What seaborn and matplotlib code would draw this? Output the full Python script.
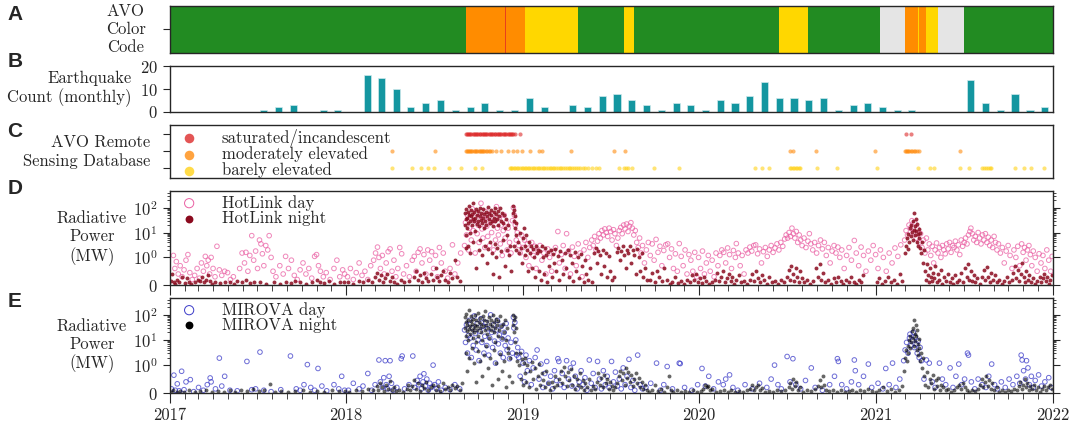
import numpy as np
import pandas as pd
import seaborn as sns
import matplotlib.pyplot as plt
import matplotlib.dates as mdates
from matplotlib.ticker import FixedLocator, NullFormatter

start = pd.Timestamp('2017-01-01')
end = pd.Timestamp('2022-01-01')

# ---- A: AVO aviation color code periods
avo_start = ['2017-01-01', '2018-09-05', '2018-11-25', '2018-11-27', '2019-01-07', '2019-04-25',
             '2019-07-30', '2019-08-20', '2020-06-15', '2020-08-13', '2021-01-10', '2021-03-01',
             '2021-03-29', '2021-03-31', '2021-04-15', '2021-05-08', '2021-07-02']
avo_end = avo_start[1:] + ['2022-01-01']
avo_code = ['green', 'orange', 'red', 'orange', 'yellow', 'green', 'yellow', 'green', 'yellow',
            'green', 'unassigned', 'orange', 'yellow', 'orange', 'yellow', 'unassigned', 'green']
code_colors = {'green': '#228b22', 'yellow': '#ffd700', 'orange': '#ff8c00',
               'red': '#e8401c', 'unassigned': '#e5e5e5'}

# ---- B: monthly earthquake counts, Jan 2017 .. Dec 2021
eq_counts = [0, 0, 0, 0, 0, 0, 1, 2, 3, 0, 1, 1,
             0, 16, 15, 10, 2, 4, 5, 1, 2, 4, 1, 1,
             6, 2, 0, 3, 2, 7, 8, 5, 3, 1, 4, 3,
             1, 5, 4, 7, 13, 6, 6, 5, 6, 1, 3, 4,
             2, 1, 1, 0, 0, 0, 14, 4, 1, 8, 1, 2]

# ---- C: AVO remote sensing detections (days since 2017-01-01)
rs_saturated = [613, 615, 617, 620, 622, 624, 627, 629, 631, 634, 636, 638, 641, 643, 646, 648, 650,
                653, 655, 657, 660, 662, 665, 667, 669, 672, 674, 677, 679, 681, 684, 686, 689, 691,
                694, 696, 699, 701, 704, 706, 708, 710, 715, 724, 1523, 1534]
rs_moderate = [459, 549, 613, 615, 617, 619, 622, 624, 626, 629, 631, 634, 636, 639, 641, 644, 646,
               649, 651, 654, 657, 660, 663, 667, 675, 685, 699, 710, 718, 728, 746, 764, 771, 830,
               920, 941, 1283, 1290, 1337, 1459, 1520, 1522, 1524, 1527, 1530, 1533, 1536, 1539,
               1542, 1545, 1549, 1634]
rs_barely = [459, 502, 520, 534, 547, 578, 603, 631, 646, 703, 706, 709, 712, 715, 718, 721, 725,
             728, 731, 734, 738, 741, 744, 747, 751, 754, 758, 761, 765, 768, 772, 775, 779, 782,
             786, 789, 793, 796, 800, 803, 807, 810, 814, 818, 821, 825, 828, 832, 836, 840, 844,
             849, 854, 860, 866, 874, 882, 889, 929, 939, 944, 949, 956, 1002, 1054, 1211, 1226,
             1240, 1283, 1286, 1289, 1292, 1295, 1298, 1301, 1304, 1339, 1381, 1462, 1547, 1573,
             1581, 1634, 1654, 1681, 1685, 1689, 1693, 1697, 1699, 1749, 1767, 1781, 1808]

# ---- D: HotLink radiative power (day since 2017-01-01, MW)
hl_day = [
    (8, 1.2), (11, 0.6), (14, 0.85), (18, 0.4), (22, 0.7), (26, 0.3), (30, 0.55), (34, 0.9), (38, 1.3),
    (42, 0.45), (47, 0.2), (52, 0.35), (57, 0.6), (62, 0.25), (66, 0.8), (70, 0.5), (74, 1.1), (77, 0.7),
    (80, 0.9), (83, 0.4), (86, 1.0), (90, 0.6), (94, 0.3), (98, 2.8), (103, 0.55), (108, 0.35), (114, 0.5),
    (120, 0.45), (126, 0.2), (132, 0.3), (145, 0.6), (150, 1.5), (155, 0.8), (158, 1.6), (162, 0.5),
    (166, 1.2), (170, 7.5), (174, 0.9), (178, 1.8), (182, 0.6), (186, 5), (189, 3.5), (192, 1.4),
    (195, 0.7), (199, 3), (203, 2), (206, 7.5), (210, 1), (214, 0.5), (220, 0.3), (228, 0.7), (235, 0.4),
    (240, 1.1), (246, 0.6), (252, 0.9), (258, 0.35), (264, 0.2), (270, 0.55), (276, 0.8), (282, 0.4),
    (288, 0.6), (294, 0.25), (300, 1.1), (304, 1.3), (308, 0.7), (312, 0.5), (318, 0.3), (324, 0.45),
    (332, 0.2), (340, 0.6), (346, 0.9), (352, 0.3), (358, 0.55), (362, 0.4),
    (368, 0.3), (374, 0.6), (380, 0.2), (386, 0.45), (392, 0.8), (398, 0.35), (404, 0.5), (410, 0.2),
    (416, 0.7), (422, 0.9), (426, 1.5), (430, 2.6), (433, 1), (436, 0.6), (440, 1.2), (444, 0.4),
    (448, 0.8), (452, 1.7), (456, 2.2), (460, 0.5), (464, 0.9), (468, 0.3), (472, 0.6), (476, 2.5),
    (480, 1.4), (484, 0.4), (490, 0.7), (496, 0.3), (502, 0.9), (506, 1.1), (510, 0.5), (514, 1.6),
    (518, 2.2), (522, 0.8), (526, 1.3), (530, 0.4), (534, 2), (538, 0.9), (542, 1.7), (546, 0.6),
    (550, 1.2), (554, 0.3), (558, 2.5), (562, 0.8), (566, 1.5), (570, 0.5), (575, 0.25), (580, 0.6),
    (585, 3.2), (590, 0.4), (596, 0.8), (602, 1.5),
    (610, 3), (612, 25), (614, 8), (616, 50), (618, 2), (620, 15), (622, 40), (624, 5), (626, 90),
    (628, 12), (630, 30), (632, 1.5), (634, 60), (636, 9), (638, 20), (640, 4), (642, 45), (644, 150),
    (646, 14), (648, 6), (650, 35), (652, 2.5), (654, 70), (656, 18), (658, 7), (660, 40), (662, 3),
    (664, 25), (666, 10), (668, 55), (670, 2), (672, 30), (674, 5), (676, 110), (678, 15), (680, 8),
    (682, 40), (684, 3.5), (686, 20), (688, 1.2), (690, 12), (692, 50), (694, 6), (696, 25), (698, 2),
    (700, 15), (703, 4), (706, 1.5), (709, 30), (711, 100), (713, 50), (715, 20), (717, 5), (719, 10),
    (722, 3), (725, 1.5), (728, 8), (731, 2.5), (734, 5), (737, 1), (740, 3.5), (743, 0.7), (746, 2),
    (749, 4), (752, 1.2), (755, 2.8), (758, 0.6), (762, 1.8), (766, 3), (770, 0.9), (774, 1.5),
    (778, 0.4), (782, 2.2), (786, 1), (790, 0.5), (794, 1.6), (798, 2.5), (803, 11), (806, 0.8),
    (810, 1.3), (814, 3), (818, 0.6), (821, 9), (825, 1.8), (829, 0.4), (833, 2.6), (837, 1.1),
    (841, 0.7), (845, 3.5), (849, 1.5), (853, 0.3), (857, 2), (861, 4), (865, 1), (869, 2.5), (873, 5),
    (876, 3), (879, 7), (882, 2), (885, 4.5), (888, 9), (891, 6), (894, 12), (897, 8), (900, 14),
    (903, 10), (906, 7), (909, 15), (912, 11), (915, 5), (918, 13), (921, 9), (924, 3), (927, 6),
    (930, 12), (933, 16), (936, 9), (939, 20), (942, 14), (945, 22), (948, 11), (951, 18), (954, 25),
    (957, 15), (960, 8), (963, 12), (966, 4), (969, 2.5), (972, 6), (975, 1.5), (978, 3), (982, 0.8),
    (986, 2), (990, 4), (994, 1.2), (998, 3.5), (1002, 0.9), (1006, 5.3), (1010, 1.6), (1014, 2.8),
    (1018, 0.7), (1022, 1.9), (1026, 3.2), (1030, 3.5), (1034, 1), (1038, 2.2), (1042, 0.6), (1046, 1.4),
    (1050, 0.5), (1054, 3.6), (1058, 1.1), (1062, 0.7), (1066, 2), (1070, 0.4), (1074, 1.3), (1078, 0.9),
    (1082, 0.5), (1086, 1.6), (1090, 0.3), (1094, 1), (1098, 0.6), (1102, 1.8), (1106, 0.4), (1110, 0.8),
    (1114, 1.2), (1118, 0.5), (1122, 0.9), (1126, 0.3), (1130, 1.5), (1134, 0.7), (1138, 1.2), (1142, 2),
    (1146, 1.6), (1150, 0.8), (1154, 2.4), (1158, 1.3), (1162, 0.6), (1166, 1.9), (1170, 1), (1172, 3.6),
    (1176, 1.5), (1180, 0.7), (1184, 1.2), (1188, 0.4), (1192, 2), (1196, 1.5), (1200, 2.6), (1204, 1.8),
    (1208, 3), (1212, 3.2), (1216, 1.4), (1220, 2.2), (1224, 0.8), (1228, 1.7), (1232, 2.5), (1236, 1.1),
    (1240, 2), (1244, 3), (1248, 1.6), (1252, 2.4), (1256, 3.5), (1260, 2), (1264, 4), (1268, 2.8),
    (1272, 5.5), (1275, 8), (1278, 6), (1281, 10), (1284, 7), (1287, 15), (1290, 9), (1293, 6),
    (1296, 11), (1299, 4), (1302, 8), (1305, 5), (1308, 3), (1312, 6), (1316, 2.5), (1320, 4.5),
    (1323, 9), (1326, 3.5), (1330, 2), (1334, 4), (1338, 1.5), (1342, 3), (1346, 5), (1350, 2.2),
    (1354, 4), (1358, 1.2), (1362, 2.5), (1366, 0.8), (1370, 1.8), (1374, 3), (1378, 1.5), (1382, 2.6),
    (1386, 1), (1390, 2), (1395, 0.6), (1400, 1.2), (1405, 2.5), (1410, 0.9), (1416, 4.8), (1420, 1.5),
    (1425, 0.7), (1430, 2.6), (1435, 1.2), (1440, 0.5), (1445, 1.8), (1450, 0.9), (1455, 3), (1460, 1.3),
    (1465, 0.6), (1470, 2), (1476, 1), (1482, 0.5), (1488, 1.5), (1494, 0.8), (1500, 2.4), (1506, 1.1),
    (1512, 3.2),
    (1520, 5), (1523, 12), (1526, 8), (1529, 20), (1532, 15), (1535, 30), (1538, 10), (1541, 25),
    (1544, 6), (1547, 14), (1550, 4), (1553, 9), (1556, 2.5), (1559, 5), (1562, 1.5),
    (1565, 6), (1568, 2), (1571, 3.5), (1574, 1.2), (1577, 2.8), (1580, 0.8), (1583, 2), (1586, 3.8),
    (1589, 1.5), (1592, 2.5), (1595, 1), (1598, 3), (1601, 2), (1604, 1.4), (1607, 3.5), (1610, 2.2),
    (1613, 4), (1616, 1.6), (1619, 3), (1622, 2.5), (1625, 4.5), (1628, 2), (1631, 3.2), (1634, 1.3),
    (1637, 5), (1640, 2.8), (1643, 4), (1646, 6), (1649, 3.5), (1652, 8), (1655, 11), (1657, 15),
    (1660, 9), (1663, 5), (1666, 7), (1669, 4), (1672, 10), (1675, 6), (1678, 3.5), (1681, 8), (1684, 5),
    (1687, 9), (1690, 4), (1693, 6.5), (1696, 3), (1699, 5), (1702, 2.5), (1705, 7), (1708, 4), (1711, 2),
    (1714, 3.5), (1718, 1.5), (1722, 2.5), (1726, 0.8), (1730, 1.8), (1734, 3), (1738, 1.2), (1742, 0.6),
    (1746, 2), (1750, 1), (1754, 2.8), (1758, 0.7), (1762, 3.5), (1765, 1.6), (1768, 2.5), (1771, 0.9),
    (1774, 2), (1777, 3), (1780, 1.3), (1783, 0.7), (1786, 1.8), (1790, 1), (1794, 0.5), (1798, 1.4),
    (1802, 0.8), (1806, 1.2), (1810, 0.6), (1814, 2), (1818, 0.9), (1822, 0.5), (1825, 1.1)]

hl_night = [
    (3, 0.15), (6, 0.4), (9, 0.1), (12, 0.05), (16, 0.2), (20, 0.1), (26, 0.3), (31, 0.08), (36, 0.25),
    (40, 0.12), (45, 0.05), (52, 0.1), (58, 0.2), (63, 0.15), (68, 0.3), (72, 0.1), (76, 0.2), (80, 0.35),
    (84, 0.15), (88, 0.05), (95, 0.1), (104, 0.08), (115, 0.12), (125, 0.1), (133, 0.05), (140, 0.15),
    (150, 0.1), (158, 0.2), (166, 0.08), (175, 0.1), (188, 0.12), (200, 0.05), (215, 0.1), (228, 0.05),
    (240, 0.12), (252, 0.08), (260, 0.15), (270, 0.1), (282, 0.05), (295, 0.12), (305, 0.2), (312, 0.1),
    (320, 0.08), (330, 0.15), (340, 0.05), (352, 0.1), (360, 0.12),
    (370, 0.1), (380, 0.05), (392, 0.15), (400, 0.1), (410, 0.2), (418, 0.12), (425, 0.3), (430, 0.45),
    (434, 0.2), (438, 0.35), (442, 0.1), (446, 0.25), (450, 0.4), (455, 0.15), (460, 0.3), (465, 0.1),
    (470, 0.05), (478, 0.2), (485, 0.1), (495, 0.15), (505, 0.3), (510, 0.5), (514, 0.2), (518, 0.35),
    (522, 0.1), (526, 0.45), (530, 0.25), (535, 0.15), (540, 0.4), (545, 0.2), (550, 0.6), (554, 0.3),
    (558, 0.15), (562, 0.35), (566, 0.5), (570, 0.2), (575, 0.1), (580, 0.45), (585, 0.25), (590, 0.9),
    (595, 0.3), (600, 0.15),
    (610, 20), (611, 60), (612, 35), (613, 8), (614, 90), (615, 40), (616, 15), (617, 70), (618, 25),
    (619, 50), (620, 120), (621, 30), (622, 10), (623, 45), (624, 80), (625, 20), (626, 55), (627, 35),
    (628, 150), (629, 28), (630, 65), (631, 12), (632, 40), (634, 90), (635, 22), (636, 50), (637, 30),
    (638, 75), (640, 18), (641, 45), (642, 100), (644, 33), (645, 60), (646, 25), (648, 40), (649, 85),
    (650, 15), (651, 55), (653, 30), (654, 70), (655, 20), (657, 45), (658, 110), (660, 35), (661, 60),
    (662, 25), (664, 50), (665, 80), (667, 30), (668, 18), (670, 65), (671, 40), (673, 95), (674, 28),
    (676, 55), (677, 35), (679, 75), (680, 20), (682, 45), (684, 100), (686, 30), (688, 60), (690, 25),
    (692, 50), (694, 15), (696, 35), (698, 8), (700, 20),
    (612, 2.5), (618, 3), (622, 1.5), (628, 4), (633, 0.6), (639, 2), (643, 5), (647, 1.2), (652, 3),
    (656, 0.8), (659, 2.2), (663, 4), (666, 1.5), (669, 0.4), (672, 3.5), (675, 1), (678, 2.5),
    (681, 0.3), (685, 1.8), (689, 5), (693, 0.7), (697, 2), (701, 1.2), (704, 3), (706, 0.5),
    (710, 60), (711, 120), (712, 30), (713, 80), (714, 15), (715, 45), (716, 8), (717, 25), (712, 3),
    (716, 2),
    (720, 4), (722, 1.5), (724, 10), (726, 2.5), (728, 0.8), (730, 6), (732, 15), (734, 3), (736, 1.2),
    (738, 8), (740, 2), (742, 0.5), (744, 4), (746, 1.5), (748, 3), (750, 0.6), (752, 2.2), (754, 1),
    (756, 0.3), (758, 3), (760, 1.5),
    (762, 2), (764, 0.5), (766, 1.8), (768, 0.2), (770, 3), (772, 1), (774, 0.4), (776, 2.5), (778, 1.2),
    (780, 0.1), (782, 1.6), (785, 0.7), (788, 2), (790, 0.3), (793, 1.4), (795, 0.8), (798, 2.2),
    (800, 0.5), (803, 1.1), (806, 0.2), (808, 1.8), (811, 0.9), (814, 0.4), (817, 1.5), (820, 0.6),
    (823, 2), (826, 0.3), (829, 1.2), (832, 0.8), (835, 0.15), (838, 1.6), (841, 0.5), (844, 1),
    (847, 0.25), (850, 1.4), (853, 0.7), (856, 0.1), (859, 0.9), (862, 0.4), (866, 0.2), (870, 0.6),
    (874, 0.1), (878, 1.5), (881, 2.5), (884, 0.8), (887, 1.8), (890, 1.2), (893, 0.4), (896, 2),
    (899, 0.7), (902, 1.5), (905, 0.3), (908, 1.1), (911, 0.5), (914, 0.2), (920, 0.3), (925, 1.6),
    (928, 2.4), (931, 0.9), (934, 1.8), (937, 2.8), (940, 1.3), (943, 0.6), (946, 2), (949, 1.5),
    (952, 3), (955, 0.8), (958, 1.9), (961, 1.2), (964, 0.4), (967, 2.2), (970, 1), (973, 0.5),
    (976, 1.5), (980, 0.3), (984, 0.6), (988, 0.2),
    (993, 0.2), (998, 0.45), (1003, 0.1), (1008, 0.5), (1013, 0.3), (1018, 0.15), (1023, 0.6),
    (1028, 0.2), (1034, 0.05), (1040, 0.12), (1046, 0.3), (1052, 0.08), (1058, 0.15), (1064, 0.05),
    (1070, 0.2), (1076, 0.1), (1081, 0.35), (1085, 0.2), (1089, 0.4), (1093, 0.12), (1097, 0.25),
    (1101, 0.08), (1106, 0.3), (1110, 0.15), (1115, 0.05), (1122, 0.1), (1128, 0.2), (1133, 0.45),
    (1136, 0.15), (1140, 0.3), (1144, 0.5), (1148, 0.1), (1152, 0.25), (1156, 0.4), (1160, 0.15),
    (1164, 0.3), (1168, 0.05), (1172, 0.2), (1177, 0.35), (1182, 0.1), (1188, 0.15), (1194, 0.05),
    (1200, 0.2), (1205, 0.4), (1209, 0.15), (1213, 0.5), (1217, 0.25), (1221, 0.1), (1225, 0.35),
    (1230, 0.2), (1235, 0.05), (1240, 0.3), (1246, 0.1), (1252, 0.15), (1258, 0.05), (1264, 0.2),
    (1270, 0.1), (1276, 0.3), (1280, 0.55), (1283, 0.2), (1286, 0.7), (1289, 0.4), (1292, 0.15),
    (1295, 0.6), (1298, 0.3), (1301, 0.1), (1304, 0.5), (1308, 0.25), (1312, 0.1), (1318, 0.2),
    (1324, 0.05), (1330, 0.15), (1336, 0.6), (1340, 0.3), (1344, 0.75), (1348, 0.2), (1352, 0.45),
    (1356, 0.1), (1362, 0.2), (1368, 0.05), (1374, 0.25), (1378, 0.1), (1383, 0.3), (1388, 0.15),
    (1393, 0.05), (1398, 0.2), (1404, 0.1), (1410, 0.3), (1415, 0.12), (1420, 0.05), (1425, 0.2),
    (1430, 0.1), (1434, 0.35), (1462, 0.1), (1468, 0.25), (1474, 0.05), (1480, 0.15), (1486, 0.3),
    (1492, 0.1), (1498, 0.2), (1504, 0.05), (1510, 0.4), (1515, 0.15),
    (1520, 1.5), (1522, 3), (1524, 6), (1526, 2.2), (1528, 9), (1530, 4), (1531, 15), (1533, 7),
    (1534, 20), (1536, 11), (1537, 5), (1538, 28), (1539, 13), (1540, 60), (1541, 18), (1542, 8),
    (1543, 35), (1544, 12), (1545, 4), (1546, 22), (1547, 9), (1548, 3), (1549, 14), (1550, 6),
    (1551, 2.5), (1552, 10), (1553, 1.5), (1555, 4), (1557, 0.8), (1560, 2),
    (1562, 0.5), (1564, 0.2), (1566, 0.75), (1568, 0.35), (1570, 0.1), (1572, 0.6), (1574, 0.3),
    (1576, 0.15), (1578, 0.45), (1580, 0.25), (1583, 0.7), (1586, 0.1), (1589, 0.4), (1592, 0.2),
    (1595, 0.55), (1598, 0.05), (1601, 0.3), (1605, 0.15), (1609, 0.4), (1613, 0.1), (1617, 0.25),
    (1621, 0.05), (1625, 0.35), (1629, 0.12), (1633, 0.2), (1637, 0.45), (1641, 0.1), (1645, 0.6),
    (1648, 0.3), (1651, 0.75), (1654, 0.2), (1657, 0.5), (1660, 0.15), (1663, 0.35), (1666, 0.1),
    (1670, 0.25), (1675, 0.05), (1680, 0.3), (1684, 0.55), (1687, 0.2), (1690, 0.65), (1693, 0.3),
    (1696, 0.1), (1699, 0.45), (1703, 0.2), (1707, 0.35), (1711, 0.1), (1716, 0.2), (1721, 0.05),
    (1726, 0.15), (1731, 0.3), (1736, 0.1), (1741, 0.2), (1745, 0.45), (1748, 0.7), (1751, 0.25),
    (1754, 0.55), (1757, 0.15), (1760, 0.4), (1763, 0.8), (1766, 0.3), (1769, 0.1), (1772, 0.5),
    (1775, 0.2), (1778, 0.35), (1781, 0.1), (1785, 0.25), (1789, 0.05), (1794, 0.15), (1799, 0.3),
    (1803, 0.1), (1806, 0.25), (1809, 0.4), (1812, 0.15), (1815, 0.3), (1818, 0.05), (1821, 0.2),
    (1824, 0.35)]

# ---- E: MIROVA radiative power (day since 2017-01-01, MW)
mi_day = [
    (4, 0.15), (9, 0.64), (12, 0.1), (16, 0.33), (20, 0.08), (25, 0.78), (30, 0.12), (34, 0.4), (43, 0.48),
    (50, 0.05), (60, 0.2), (70, 0.1), (78, 0.3), (84, 0.54), (86, 0.4), (95, 0.15), (103, 1.9), (108, 0.25),
    (114, 0.6), (125, 0.1), (140, 0.08), (160, 1.4), (170, 0.12), (178, 0.15), (187, 3.3), (195, 0.1),
    (210, 0.05), (230, 0.12), (250, 2.3), (262, 0.15), (270, 0.1), (278, 0.3), (285, 1.05), (292, 0.2),
    (300, 0.1), (307, 0.88), (315, 0.25), (325, 0.08), (340, 0.3), (350, 0.15), (356, 0.6), (362, 0.1),
    (370, 0.1), (380, 0.35), (392, 0.15), (400, 0.25), (410, 0.7), (418, 0.1), (425, 0.3), (433, 1.6),
    (436, 0.4), (440, 0.2), (443, 0.55), (446, 1.5), (448, 0.3), (451, 0.15), (454, 0.6), (456, 1.5),
    (459, 0.35), (462, 0.1), (470, 0.2), (479, 1.8), (481, 2.3), (486, 0.15), (495, 0.3), (503, 2.3),
    (507, 0.2), (512, 0.45), (515, 0.3), (518, 0.6), (521, 0.15), (524, 0.4), (526, 0.69), (529, 0.25),
    (532, 0.5), (535, 0.1), (538, 0.35), (541, 0.2), (545, 1), (548, 0.3), (552, 0.15), (556, 0.4),
    (562, 0.1), (570, 0.2), (580, 0.12), (590, 0.3), (600, 0.15),
    (610, 25), (612, 8), (614, 40), (616, 3), (618, 15), (620, 60), (622, 12), (624, 2), (626, 30),
    (628, 6), (630, 90), (632, 18), (634, 4), (636, 45), (638, 10), (640, 1.5), (642, 22), (644, 70),
    (646, 8), (648, 35), (650, 3), (652, 14), (654, 50), (656, 6), (658, 28), (660, 2.5), (662, 12),
    (664, 100), (666, 20), (668, 5), (670, 40), (672, 9), (674, 1.2), (676, 25), (678, 60), (680, 7),
    (682, 16), (684, 3), (686, 35), (688, 11), (690, 2), (692, 20), (694, 6), (696, 45), (698, 4),
    (700, 12), (703, 1.8), (706, 8), (709, 3), (711, 80), (712, 30), (714, 50), (716, 10), (718, 2.5),
    (720, 5),
    (722, 2), (725, 0.6), (728, 3.5), (731, 1.2), (734, 0.4), (737, 2.5), (740, 0.8), (744, 1.5),
    (748, 0.3), (752, 0.9), (756, 2), (760, 4), (764, 0.5), (768, 1.1), (772, 0.2), (776, 0.7),
    (780, 1.4), (784, 0.35), (788, 0.6), (792, 0.15), (796, 0.8), (800, 0.45), (803, 1.8), (805, 1.4),
    (808, 0.3), (812, 0.7), (816, 0.2), (821, 1.5), (825, 0.5), (829, 0.9), (832, 0.25), (835, 1.2),
    (839, 0.6), (843, 0.15), (847, 0.4), (851, 0.8), (855, 0.3), (859, 0.55), (863, 0.1), (868, 1.6),
    (872, 0.35), (876, 0.7), (880, 0.2), (885, 1.4), (889, 0.5), (893, 0.15), (897, 0.8), (901, 0.3),
    (905, 0.6), (909, 0.2), (914, 1.4), (918, 0.4), (922, 0.75), (926, 0.25), (930, 0.5), (934, 0.15),
    (938, 0.9), (942, 0.3), (946, 0.6), (950, 1.7), (954, 0.2), (958, 0.45), (962, 0.1), (968, 2.5),
    (973, 0.3), (978, 0.15),
    (985, 0.2), (995, 0.35), (1007, 1.2), (1015, 0.1), (1022, 0.3), (1029, 0.95), (1040, 0.15),
    (1054, 1.2), (1056, 1.15), (1065, 0.2), (1080, 0.1), (1092, 0.3), (1101, 0.88), (1108, 0.25),
    (1115, 0.6), (1125, 0.15), (1135, 0.4), (1145, 0.3), (1150, 0.5), (1158, 0.65), (1165, 0.2),
    (1175, 0.1), (1190, 0.3), (1205, 0.15), (1220, 0.35), (1235, 0.2), (1244, 0.5), (1251, 1),
    (1258, 0.3), (1265, 0.15), (1277, 2.2), (1283, 0.4), (1289, 1.8), (1295, 0.3), (1305, 0.15),
    (1315, 0.45), (1327, 0.9), (1335, 0.2), (1350, 0.1), (1365, 0.3), (1375, 0.6), (1381, 1.8),
    (1383, 1.4), (1390, 0.3), (1400, 0.15), (1410, 0.4), (1416, 1.6), (1418, 0.8), (1425, 0.3),
    (1435, 0.6), (1445, 1.1), (1452, 0.2), (1465, 0.35), (1475, 0.15), (1481, 0.88), (1488, 0.3),
    (1495, 1.2), (1502, 0.2), (1510, 0.5),
    (1518, 1.5), (1521, 4), (1524, 8), (1527, 3), (1530, 12), (1531, 17), (1533, 6), (1536, 10),
    (1538, 20), (1540, 5), (1542, 13), (1544, 7), (1546, 3), (1548, 9), (1550, 2), (1552, 5), (1555, 1.5),
    (1560, 0.5), (1565, 1.6), (1571, 1.2), (1577, 0.4), (1583, 0.2), (1592, 1.2), (1598, 0.5),
    (1605, 0.3), (1614, 0.9), (1620, 0.2), (1626, 0.6), (1632, 1.1), (1638, 0.3), (1644, 0.5),
    (1650, 3), (1652, 2.5), (1658, 0.4), (1665, 0.15), (1672, 0.5), (1680, 0.3), (1688, 0.2),
    (1694, 0.6), (1700, 1.1), (1706, 0.3), (1712, 0.15), (1720, 0.4), (1728, 0.2), (1736, 0.5),
    (1744, 0.3), (1752, 0.6), (1758, 0.35), (1761, 2.5), (1763, 1.6), (1766, 0.8), (1770, 0.5),
    (1772, 1.5), (1775, 0.9), (1778, 0.3), (1782, 0.6), (1786, 0.2), (1790, 0.45), (1797, 0.65),
    (1803, 0.25), (1810, 0.4), (1818, 0.55), (1823, 0.2)]

mi_night = [
    (2, 0.05), (8, 0.1), (15, 0.03), (22, 0.08), (30, 0.05), (40, 0.12), (52, 0.04), (62, 0.07), (75, 0.1),
    (88, 0.05), (100, 0.08), (112, 0.03), (124, 0.1), (136, 0.05), (148, 0.12), (160, 0.06), (172, 0.15),
    (184, 0.08), (196, 0.1), (207, 0.33), (218, 0.05), (230, 0.08), (245, 0.03), (260, 0.06), (275, 0.1),
    (290, 0.04), (305, 0.08), (320, 0.05), (335, 0.1), (350, 0.06), (362, 0.08),
    (372, 0.05), (385, 0.1), (398, 0.08), (410, 0.15), (420, 0.1), (428, 0.25), (432, 0.12), (436, 0.35),
    (440, 0.2), (444, 0.08), (448, 0.3), (452, 0.15), (456, 0.42), (460, 0.1), (464, 0.22), (468, 0.06),
    (475, 0.12), (482, 0.05), (490, 0.15), (494, 0.3), (498, 0.1), (502, 0.25), (506, 0.45), (510, 0.15),
    (514, 0.35), (518, 0.08), (522, 0.28), (526, 0.18), (530, 0.4), (534, 0.1), (540, 0.2), (545, 0.3),
    (550, 0.12), (555, 0.25), (560, 0.08), (565, 0.35), (570, 0.15), (575, 0.22), (580, 0.1), (585, 0.3),
    (590, 0.18), (595, 0.25), (600, 0.12), (605, 0.35),
    (610, 30), (611, 80), (612, 15), (613, 50), (614, 110), (615, 22), (616, 40), (617, 10), (618, 65),
    (619, 28), (620, 150), (621, 35), (622, 18), (623, 55), (624, 90), (625, 25), (626, 45), (627, 12),
    (628, 70), (629, 30), (630, 20), (631, 100), (632, 40), (633, 8), (634, 60), (635, 25), (636, 35),
    (637, 120), (638, 15), (640, 50), (641, 30), (642, 75), (644, 20), (645, 45), (646, 10), (648, 90),
    (649, 35), (650, 60), (652, 25), (653, 140), (654, 40), (656, 18), (657, 55), (658, 30), (660, 80),
    (661, 12), (662, 45), (664, 25), (665, 65), (667, 35), (668, 100), (670, 20), (671, 50), (673, 30),
    (674, 8), (676, 70), (677, 40), (679, 15), (680, 55), (682, 25), (684, 90), (686, 35), (688, 12),
    (690, 45), (692, 20), (694, 60), (696, 10), (698, 30), (700, 5),
    (612, 3), (616, 0.8), (620, 2), (625, 5), (630, 1.2), (634, 0.4), (638, 3.5), (643, 1.5), (647, 0.6),
    (651, 2.5), (655, 6), (659, 0.9), (663, 2), (667, 0.3), (671, 4), (675, 1.2), (679, 0.5), (683, 2.8),
    (687, 0.8), (691, 1.5), (695, 0.2), (699, 3), (702, 0.6), (705, 2), (708, 0.4),
    (710, 40), (711, 100), (712, 60), (713, 20), (714, 85), (715, 8), (716, 30), (717, 3), (718, 1.5),
    (722, 1), (724, 3), (726, 0.5), (728, 1.8), (730, 0.3), (732, 1.2), (734, 0.7), (736, 2), (738, 0.4),
    (740, 1), (743, 0.2), (746, 0.8), (749, 1.3), (752, 0.5), (755, 0.9), (758, 0.15), (761, 0.6),
    (764, 1.1), (767, 0.3), (770, 0.7), (773, 0.45), (776, 0.2), (779, 0.8), (782, 0.35), (786, 0.1),
    (790, 0.4), (794, 0.2), (798, 0.6), (802, 0.3), (806, 0.5), (809, 0.8), (812, 0.35), (815, 0.95),
    (818, 0.6), (821, 0.25), (824, 0.75), (827, 0.45), (830, 0.85), (833, 0.3), (836, 0.6), (839, 0.15),
    (842, 0.5), (845, 0.3), (848, 0.7), (851, 0.2), (854, 0.45), (857, 0.1), (860, 0.35), (864, 0.2),
    (868, 0.5), (872, 0.1), (876, 0.25), (880, 0.15), (884, 0.4), (887, 0.7), (890, 0.3), (893, 0.55),
    (896, 0.2), (899, 0.65), (902, 0.35), (905, 0.5), (908, 0.15), (911, 0.4), (914, 0.25), (918, 0.1),
    (922, 0.2), (926, 0.35), (929, 0.6), (932, 0.8), (935, 0.45), (938, 0.7), (941, 0.3), (943, 0.9),
    (946, 0.55), (949, 0.75), (952, 0.4), (955, 0.65), (958, 0.25), (961, 0.5), (964, 0.7), (967, 0.35),
    (970, 0.55), (973, 0.2), (976, 0.4), (980, 0.15), (984, 0.3), (988, 0.1),
    (992, 0.05), (998, 0.1), (1004, 0.3), (1010, 0.08), (1016, 0.15), (1022, 0.05), (1028, 0.2),
    (1032, 0.6), (1036, 0.1), (1042, 0.05), (1050, 0.12), (1058, 0.05), (1066, 0.08), (1074, 0.03),
    (1082, 0.1), (1090, 0.05), (1098, 0.08), (1104, 0.15), (1108, 0.3), (1111, 0.2), (1114, 0.25),
    (1118, 0.1), (1122, 0.15), (1130, 0.05), (1138, 0.08), (1146, 0.1), (1154, 0.05), (1162, 0.12),
    (1170, 0.04), (1178, 0.08), (1186, 0.05), (1194, 0.1), (1200, 0.15), (1204, 0.28), (1208, 0.12),
    (1212, 0.2), (1216, 0.3), (1220, 0.1), (1226, 0.18), (1232, 0.05), (1240, 0.08), (1248, 0.04),
    (1256, 0.1), (1264, 0.06), (1272, 0.12), (1280, 0.2), (1284, 0.35), (1287, 0.15), (1290, 0.5),
    (1293, 0.25), (1296, 0.4), (1300, 0.1), (1304, 0.2), (1310, 0.05), (1318, 0.1), (1326, 0.06),
    (1334, 0.15), (1340, 0.25), (1344, 0.45), (1348, 0.2), (1351, 0.6), (1354, 0.3), (1358, 0.1),
    (1364, 0.08), (1372, 0.12), (1380, 0.05), (1388, 0.1), (1396, 0.04), (1404, 0.08), (1412, 0.12),
    (1420, 0.05), (1428, 0.1), (1436, 0.06), (1444, 0.15), (1452, 0.08), (1460, 0.05), (1468, 0.12),
    (1476, 0.2), (1484, 0.08), (1492, 0.15), (1500, 0.05), (1508, 0.1), (1514, 0.25),
    (1518, 0.8), (1520, 2), (1522, 4), (1524, 1.5), (1526, 6), (1528, 3), (1529, 10), (1531, 5),
    (1532, 15), (1534, 8), (1535, 22), (1537, 12), (1538, 30), (1539, 6), (1540, 63), (1541, 18),
    (1542, 9), (1543, 40), (1544, 14), (1545, 4), (1546, 25), (1547, 7), (1548, 2.5), (1549, 11),
    (1550, 5), (1551, 1.5), (1553, 3), (1555, 0.9), (1558, 2),
    (1560, 0.6), (1563, 0.3), (1566, 0.75), (1569, 0.2), (1572, 0.5), (1575, 0.35), (1578, 0.65),
    (1581, 0.15), (1584, 0.45), (1587, 0.25), (1590, 0.55), (1593, 0.1), (1596, 0.3), (1600, 0.2),
    (1605, 0.1), (1610, 0.15), (1616, 0.05), (1622, 0.1), (1628, 0.2), (1632, 0.3), (1636, 0.15),
    (1640, 0.35), (1644, 0.2), (1648, 0.1), (1654, 0.05), (1660, 0.12), (1666, 0.08), (1672, 0.15),
    (1676, 0.3), (1680, 0.5), (1683, 0.2), (1686, 0.4), (1689, 0.6), (1692, 0.25), (1695, 0.45),
    (1698, 0.15), (1701, 0.35), (1704, 0.1), (1710, 0.2), (1716, 0.05), (1722, 0.1), (1728, 0.05),
    (1734, 0.12), (1740, 0.08), (1746, 0.15), (1752, 0.1), (1756, 0.25), (1759, 0.4), (1762, 0.15),
    (1765, 0.3), (1768, 0.5), (1771, 0.2), (1774, 0.35), (1777, 0.1), (1780, 0.25), (1784, 0.15),
    (1788, 0.3), (1792, 0.1), (1796, 0.2), (1800, 0.05), (1804, 0.15), (1808, 0.25), (1812, 0.1),
    (1816, 0.2), (1820, 0.3), (1824, 0.15)]


def to_df(pairs):
    df = pd.DataFrame(pairs, columns=['day', 'mw'])
    df['date'] = start + pd.to_timedelta(df['day'], unit='D')
    return df


def to_dates(days):
    return start + pd.to_timedelta(pd.Series(days), unit='D')


sns.set_style('ticks')
plt.rcParams['font.family'] = ['cmr10', 'DejaVu Serif']
plt.rcParams['mathtext.fontset'] = 'cm'
plt.rcParams['axes.formatter.use_mathtext'] = True
plt.rcParams['font.size'] = 12
plt.rcParams['axes.edgecolor'] = '0.15'
plt.rcParams['axes.linewidth'] = 1.0

fig, axes = plt.subplots(5, 1, figsize=(10.73, 4.24), dpi=100, sharex=True,
                         gridspec_kw={'height_ratios': [47, 46, 53, 94, 95]})
fig.subplots_adjust(left=0.158, right=0.981, top=0.986, bottom=0.073, hspace=0.2)
axA, axB, axC, axD, axE = axes

# A: color code
for s, e, c in zip(avo_start, avo_end, avo_code):
    axA.axvspan(pd.Timestamp(s), pd.Timestamp(e), color=code_colors[c], lw=0)
axA.set_ylim(-0.5, 0.5)
axA.set_yticks([0])
axA.set_yticklabels([])
axA.set_ylabel('AVO\nColor\nCode', rotation=0, ha='right', va='center', multialignment='center')
axA.yaxis.set_label_coords(-0.027, 0.5)

# B: earthquakes
months = pd.date_range('2017-01-01', periods=len(eq_counts), freq='MS') + pd.Timedelta(days=14)
axB.bar(months, eq_counts, width=15, color='#1496a0', edgecolor='#cfe9ec', linewidth=0.5)
axB.set_ylim(0, 20)
axB.set_yticks([0, 10, 20])
axB.set_ylabel('Earthquake\nCount (monthly)', rotation=0, ha='right', va='center', multialignment='right')
axB.yaxis.set_label_coords(-0.043, 0.5)

# C: remote sensing
rs_rows = [('saturated/incandescent', rs_saturated, 2, '#dd2a2a'),
           ('moderately elevated', rs_moderate, 1, '#ff8c0f'),
           ('barely elevated', rs_barely, 0, '#ffd21a')]
for lab, days, row, col in rs_rows:
    d = to_dates(days)
    sns.scatterplot(x=d, y=np.full(len(d), row), ax=axC, color=col, s=9, alpha=0.6,
                    linewidth=0, label=lab)
axC.set_ylim(-0.6, 2.55)
axC.set_yticks([0, 1, 2])
axC.set_yticklabels([])
axC.set_ylabel('AVO Remote\nSensing Database', rotation=0, ha='right', va='center', multialignment='right')
axC.yaxis.set_label_coords(-0.022, 0.5)
legC = axC.legend(loc='upper left', frameon=False, markerscale=2.3, handlelength=1.0, handletextpad=1.45,
                  labelspacing=0.0, borderaxespad=0.1, borderpad=0.1, fontsize=12,
                  bbox_to_anchor=(0.009, 1.0))
for h in legC.legend_handles:
    h.set_alpha(0.8)


def power_panel(ax, day_pairs, night_pairs, day_col, night_col, night_alpha, names):
    dd = to_df(day_pairs)
    dn = to_df(night_pairs)
    sns.scatterplot(data=dd, x='date', y='mw', ax=ax, s=11, marker='o', color=day_col,
                    alpha=0.75, linewidth=0.7, label=names[0])
    ax.collections[-1].set_facecolor('none')
    ax.collections[-1].set_edgecolor(day_col)
    sns.scatterplot(data=dn, x='date', y='mw', ax=ax, s=8, color=night_col,
                    alpha=night_alpha, linewidth=0, label=names[1])
    ax.set_yscale('symlog', linthresh=1, linscale=1)
    ax.set_ylim(0, 450)
    ax.yaxis.set_major_locator(FixedLocator([0, 1, 10, 100]))
    minors = [m * 10 ** k for k in range(0, 3) for m in range(2, 10) if m * 10 ** k < 450]
    ax.yaxis.set_minor_locator(FixedLocator(minors))
    ax.yaxis.set_minor_formatter(NullFormatter())
    ax.tick_params(axis='y', which='both', right=True, direction='out')
    ax.set_ylabel('Radiative\nPower\n(MW)', rotation=0, ha='right', va='center', multialignment='center')
    ax.yaxis.set_label_coords(-0.048, 0.5)
    leg = ax.legend(loc='upper left', frameon=False, markerscale=2.0, handlelength=1.0,
                    handletextpad=1.45, labelspacing=0.0, borderaxespad=0.1, borderpad=0.1, fontsize=12,
                    bbox_to_anchor=(0.009, 1.0))
    for h in leg.legend_handles:
        h.set_alpha(1)


power_panel(axD, hl_day, hl_night, '#ea5fa3', '#8b0a1e', 0.85, ['HotLink day', 'HotLink night'])
power_panel(axE, mi_day, mi_night, '#3a3ac8', 'black', 0.6, ['MIROVA day', 'MIROVA night'])

for ax in axes:
    ax.set_xlim(start, end)
    ax.set_xlabel('')
    ax.tick_params(axis='y', which='major', length=5)
    ax.tick_params(axis='y', which='minor', length=2.5)
for ax in (axA, axB, axC):
    ax.tick_params(axis='x', which='both', bottom=False, labelbottom=False)
for ax in (axD, axE):
    ax.xaxis.set_major_locator(mdates.YearLocator())
    ax.xaxis.set_minor_locator(mdates.MonthLocator())
    ax.tick_params(axis='x', which='major', length=7, direction='out')
    ax.tick_params(axis='x', which='minor', length=4, direction='out')
axD.tick_params(axis='x', which='both', labelbottom=False)
axE.xaxis.set_major_formatter(mdates.DateFormatter('%Y'))
axE.tick_params(axis='x', which='major', labelsize=12)

for letter, y in zip('ABCDE', [0.965, 0.855, 0.69, 0.555, 0.288]):
    fig.text(0.007, y, letter, fontsize=15, fontweight='bold', family=['Liberation Sans', 'DejaVu Sans'],
             va='center', ha='left')

fig.savefig('out.png', dpi=100)
